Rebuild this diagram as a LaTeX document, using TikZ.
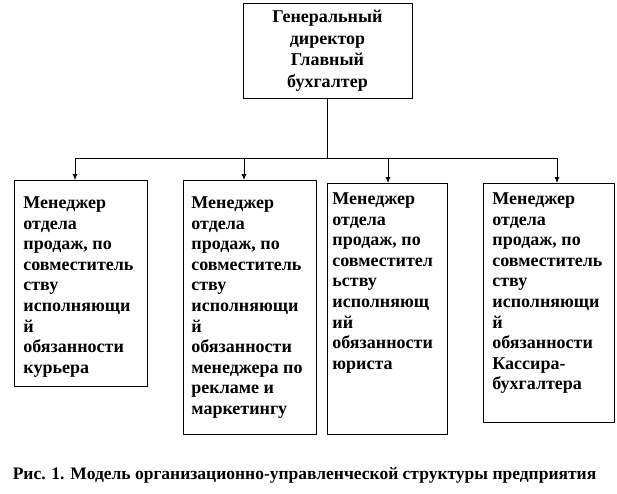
\documentclass[tikz,border=0pt]{standalone}
\usepackage{fontspec}
\setmainfont{Liberation Serif}
\usetikzlibrary{arrows.meta}

% text of a lower box: height, width, first baseline, lines
\newcommand{\celltext}[4]{\parbox[c][#1][t]{#2}{\raggedright\rule{0pt}{#3}#4}}

\begin{document}
\begin{tikzpicture}[x=1pt,y=-1pt,line width=0.8pt,
	every node/.style={font=\bfseries\fontsize{18}{20.6}\selectfont},
	unit/.style={draw, inner ysep=0pt, anchor=north west},
	arr/.style={-{Latex[length=6pt,width=5pt]}}]
					\useasboundingbox (0,0) rectangle (617,493);

					\node[draw, minimum width=169pt, minimum height=95pt, align=center,
						font=\bfseries\fontsize{18}{21.5}\selectfont] (gd) at (327.5,50.5)
						{Генеральный\\директор\\Главный\\бухгалтер};

					\node[unit, inner xsep=9pt] (kur) at (14,180) {\celltext{206pt}{115pt}{28pt}{Менеджер\\отдела\\продаж, по\\совместитель\\ству\\исполняющи\\й\\обязанности\\курьера}};
					\node[unit, inner xsep=8pt] (rek) at (183,180) {\celltext{254pt}{117pt}{28pt}{Менеджер\\отдела\\продаж, по\\совместитель\\ству\\исполняющи\\й\\обязанности\\менеджера по\\рекламе и\\маркетингу}};
					\node[unit, inner xsep=5pt] (yur) at (327,183) {\celltext{251pt}{110pt}{21pt}{Менеджер\\отдела\\продаж, по\\совместител\\ьству\\исполняющ\\ий\\обязанности\\юриста}};
					\node[unit, inner xsep=9pt] (kas) at (483,183) {\celltext{239pt}{113pt}{21pt}{Менеджер\\отдела\\продаж, по\\совместитель\\ству\\исполняющи\\й\\обязанности\\Кассира-\\бухгалтера}};

					\node[anchor=base, font=\bfseries\fontsize{17.5}{20}\selectfont] (cap) at (304.5,479) {Рис. 1. Модель организационно-управленческой структуры предприятия};

					\coordinate (j1) at (75,158);
					\coordinate (j2) at (244,158);
					\coordinate (j3) at (388,158);
					\coordinate (j4) at (557,158);

					\draw (gd.south) -- (gd.south |- j1);
					\draw (j1) -- (j4);
					\path[arr]
					(j1) edge (j1 |- kur.north)
					(j2) edge (j2 |- rek.north)
					(j3) edge (j3 |- yur.north)
					(j4) edge (j4 |- kas.north)
					;
				\end{tikzpicture}
\end{document}
